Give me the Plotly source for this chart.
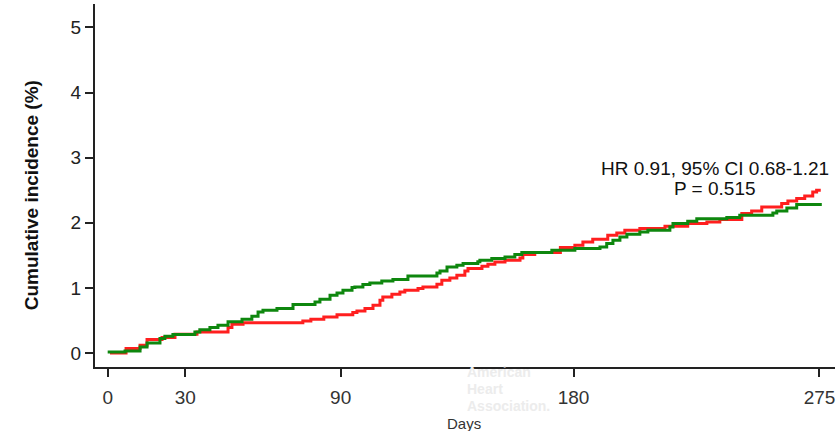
import plotly.graph_objects as go

# Step data (days, cumulative incidence %)
red_days = [0.9, 7.1, 12.5, 15.2, 21.0, 26.0, 34.5, 46.5, 48.0, 52.3, 75.4, 78.5, 83.5, 88.6,
            94.7, 96.3, 99.4, 102.5, 105.2, 106.3, 109.8, 112.9, 114.8, 119.9, 121.8, 127.2,
            129.1, 132.2, 134.9, 138.0, 139.2, 144.6, 146.9, 149.6, 153.5, 159.3, 160.4, 165.0,
            174.9, 180.5, 183.6, 187.4, 193.2, 196.7, 199.8, 205.6, 215.3, 224.1, 231.5, 236.5,
            245.0, 248.8, 252.7, 260.4, 262.8, 266.2, 269.3, 272.4, 273.9, 275.5]
red_vals = [0.000, 0.068, 0.118, 0.206, 0.237, 0.287, 0.323, 0.390, 0.441, 0.464, 0.490, 0.518,
            0.553, 0.587, 0.621, 0.645, 0.682, 0.733, 0.810, 0.860, 0.902, 0.937, 0.963, 0.989,
            1.014, 1.055, 1.117, 1.152, 1.194, 1.260, 1.296, 1.332, 1.363, 1.398, 1.424, 1.459,
            1.512, 1.542, 1.619, 1.654, 1.705, 1.747, 1.808, 1.843, 1.885, 1.911, 1.946, 1.988,
            2.012, 2.049, 2.141, 2.181, 2.243, 2.295, 2.335, 2.372, 2.412, 2.473, 2.499, 2.499]

green_days = [0.0, 6.7, 12.5, 15.2, 20.2, 22.1, 25.2, 33.7, 35.6, 39.5, 42.6, 46.5, 51.9, 55.7,
              58.1, 60.0, 65.4, 71.6, 80.1, 82.0, 85.9, 88.6, 90.9, 94.4, 95.5, 98.6, 101.3,
              105.9, 110.2, 116.0, 127.2, 128.4, 131.1, 134.9, 137.3, 143.0, 143.8, 148.4, 153.5,
              157.3, 160.0, 171.6, 180.5, 190.2, 192.8, 195.2, 197.9, 200.6, 205.6, 208.7, 217.2,
              218.4, 224.1, 227.6, 239.2, 244.2, 257.0, 258.5, 262.4, 266.2, 275.9]
green_vals = [0.015, 0.031, 0.092, 0.154, 0.221, 0.257, 0.283, 0.323, 0.359, 0.390, 0.425, 0.479,
              0.518, 0.564, 0.630, 0.656, 0.682, 0.745, 0.783, 0.825, 0.886, 0.922, 0.963, 1.005,
              1.014, 1.051, 1.075, 1.106, 1.127, 1.183, 1.229, 1.260, 1.321, 1.347, 1.373, 1.401,
              1.424, 1.450, 1.475, 1.512, 1.542, 1.578, 1.604, 1.628, 1.680, 1.731, 1.782, 1.823,
              1.859, 1.885, 1.935, 1.988, 2.023, 2.062, 2.080, 2.115, 2.151, 2.181, 2.227, 2.280,
              2.280]

x_ticks = [0, 30, 90, 180, 275]
y_ticks = [0, 1, 2, 3, 4, 5]
watermark_lines = ["American", "Heart", "Association."]

FONT = "Liberation Sans, Arial, Helvetica, sans-serif"

fig = go.Figure()
fig.add_trace(go.Scatter(x=red_days, y=red_vals, mode="lines", line_shape="hv",
                         line=dict(color="#ff1f1f", width=3), showlegend=False))
fig.add_trace(go.Scatter(x=green_days, y=green_vals, mode="lines", line_shape="hv",
                         line=dict(color="#0e870e", width=3), showlegend=False))

annotations = [
    dict(text="<b>Cumulative incidence (%)</b>", xref="paper", yref="paper",
         x=-0.0865, y=0.473, xanchor="center", yanchor="middle", textangle=-90,
         showarrow=False, font=dict(size=19, color="#111")),
    dict(text="Days", xref="paper", yref="paper", x=0.498, y=-0.1555,
         xanchor="center", yanchor="middle", showarrow=False,
         font=dict(size=15, color="#333")),
    dict(text="HR 0.91, 95% CI 0.68-1.21", xref="x", yref="y", x=234.6, y=2.84,
         xanchor="center", yanchor="middle", showarrow=False,
         font=dict(size=19, color="#111")),
    dict(text="P = 0.515", xref="x", yref="y", x=234.6, y=2.53,
         xanchor="center", yanchor="middle", showarrow=False,
         font=dict(size=19, color="#111")),
]
for txt, yy in zip(watermark_lines, [-0.0150, -0.0618, -0.1087]):
    annotations.append(dict(text="<b>" + txt + "</b>", xref="paper", yref="paper",
                            x=0.5, y=yy, xanchor="left", yanchor="middle",
                            showarrow=False, font=dict(size=14, color="#ececec")))

fig.update_layout(
    width=838, height=431,
    margin=dict(l=95, r=3, t=4, b=64),
    plot_bgcolor="white", paper_bgcolor="white",
    font=dict(family=FONT, size=19, color="#222"),
    xaxis=dict(range=[-4.9, 281], tickvals=x_ticks, ticktext=[str(v) for v in x_ticks],
               showline=True, linecolor="#222", linewidth=2, ticks="outside", ticklen=8,
               tickwidth=2, tickcolor="#222", showgrid=False, zeroline=False,
               ticklabelstandoff=4, tickfont=dict(size=19, color="#333")),
    yaxis=dict(range=[-0.215, 5.36], tickvals=y_ticks, ticktext=[str(v) for v in y_ticks],
               showline=True, linecolor="#222", linewidth=2, ticks="outside", ticklen=8,
               tickwidth=2, tickcolor="#222", showgrid=False, zeroline=False,
               tickfont=dict(size=19, color="#222")),
    annotations=annotations,
)

fig.write_html("out.html")
